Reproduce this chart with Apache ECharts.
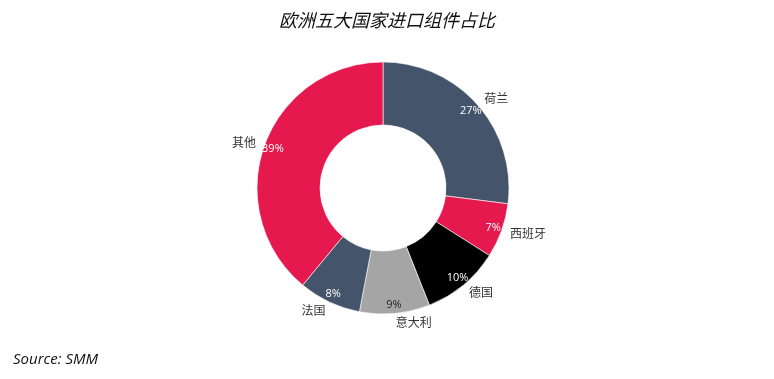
<!DOCTYPE html>
<html>
<head>
<meta charset="utf-8">
<script src="https://cdn.jsdelivr.net/npm/echarts@6/dist/echarts.min.js"></script>
<style>
html,body{margin:0;padding:0;background:#fff;}
#c{width:774px;height:379px;}
</style>
</head>
<body>
<div id="c"></div>
<script>
var titleText = '欧洲五大国家进口组件占比';
var sourceText = 'Source: SMM';
var categories = ['荷兰', '西班牙', '德国', '意大利', '法国', '其他'];
var values = [27, 7, 10, 9, 8, 39];
var colors = ['#44546A', '#E6194F', '#000000', '#A5A5A5', '#44546A', '#E6194F'];
var pctColors = ['#FFFFFF', '#FFFFFF', '#FFFFFF', '#262626', '#FFFFFF', '#FFFFFF'];

var chart = echarts.init(document.getElementById('c'));
var mainData = categories.map(function (n, i) {
  return { name: n, value: values[i], itemStyle: { color: colors[i] } };
});
var pctData = categories.map(function (n, i) {
  return { name: n, value: values[i], label: { color: pctColors[i] } };
});
chart.setOption({
  animation: false,
  title: [{
    text: titleText, left: 'center', top: 6,
    textStyle: { fontFamily: 'Noto Sans CJK SC', fontStyle: 'italic', fontWeight: 'normal', fontSize: 18, color: '#111' }
  }, {
    text: sourceText, left: 8, top: 347,
    textStyle: { fontFamily: 'Open Sans', fontStyle: 'italic', fontWeight: 'normal', fontSize: 15, color: '#111' }
  }],
  series: [{
    type: 'pie',
    center: [383, 188],
    radius: [63, 126],
    startAngle: 90,
    clockwise: true,
    avoidLabelOverlap: false,
    silent: true,
    itemStyle: { borderColor: '#fff', borderWidth: 0.6 },
    label: {
      show: true, position: 'outside', formatter: '{b}',
      fontFamily: 'Noto Sans CJK SC', fontSize: 12, color: '#333',
      distanceToLabelLine: 0
    },
    labelLine: { show: false, length: 9, length2: 0 },
    data: mainData
  }, {
    type: 'pie',
    center: [383, 188],
    radius: [0, 228],
    startAngle: 90,
    clockwise: true,
    silent: true,
    avoidLabelOverlap: false,
    itemStyle: { color: 'rgba(0,0,0,0)', borderWidth: 0 },
    label: {
      show: true, position: 'inside', formatter: '{c}%',
      fontFamily: 'Open Sans', fontSize: 11
    },
    labelLine: { show: false },
    data: pctData
  }]
});
</script>
</body>
</html>
